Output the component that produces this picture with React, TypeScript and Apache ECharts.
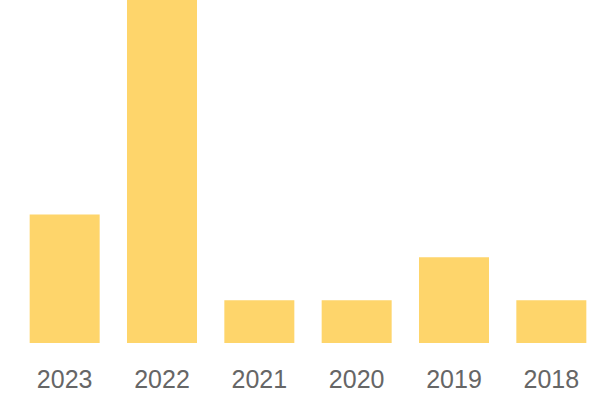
import React, { useEffect, useRef } from "react";
import * as echarts from "echarts";

const categories = ["2023", "2022", "2021", "2020", "2019", "2018"];
const values = [3, 8, 1, 1, 2, 1];

export default function App() {
  const ref = useRef<HTMLDivElement>(null);
  useEffect(() => {
    if (!ref.current) return;
    const chart = echarts.init(ref.current, undefined, { renderer: "svg" });
    chart.setOption({
      animation: false,
      grid: { left: 16, right: 0, top: 0, bottom: 57, containLabel: false },
      xAxis: {
        type: "category",
        data: categories,
        axisLine: { show: false },
        axisTick: { show: false },
        axisLabel: {
          color: "#666666",
          fontSize: 25,
          fontFamily: "Liberation Sans, Arial, sans-serif",
          margin: 23,
        },
      },
      yAxis: {
        type: "value",
        min: 0,
        max: 8,
        show: false,
        splitLine: { show: false },
      },
      series: [
        {
          type: "bar",
          data: values,
          barWidth: 70,
          itemStyle: { color: "#FED56B" },
        },
      ],
    });
    return () => chart.dispose();
  }, []);
  return (
    <div
      ref={ref}
      style={{ position: "absolute", left: 0, top: 0, width: 600, height: 400 }}
    />
  );
}
